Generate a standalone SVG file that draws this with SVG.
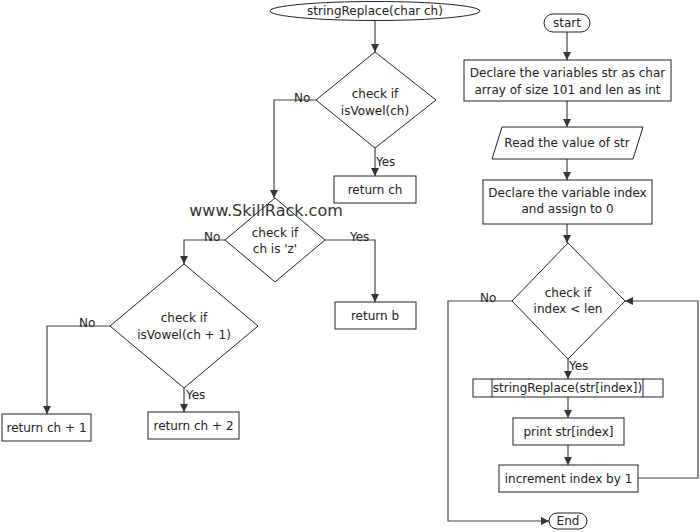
<svg xmlns="http://www.w3.org/2000/svg" width="700" height="532" viewBox="0 0 700 532">
<defs>
<marker id="ah" viewBox="0 0 10 10" refX="10" refY="5" markerWidth="8" markerHeight="8" markerUnits="userSpaceOnUse" orient="auto">
<path d="M0,0 L10,5 L0,10 Z" fill="#333"/>
</marker>
<style>
.s{fill:#fff;stroke:#222;stroke-width:1}
.t{font-family:"DejaVu Sans","Liberation Sans",sans-serif;font-size:12px;fill:#222;text-anchor:middle}
.l{font-family:"DejaVu Sans","Liberation Sans",sans-serif;font-size:12px;fill:#222}
.c{fill:none;stroke:#444;stroke-width:1.2}
</style>
</defs>
<rect width="700" height="532" fill="#fff"/>
<g id="connectors">
<path class="c" d="M375,20 V52" marker-end="url(#ah)"/>
<path class="c" d="M316,100 H274 V198" marker-end="url(#ah)"/>
<path class="c" d="M375,148 V176" marker-end="url(#ah)"/>
<path class="c" d="M225,240 H184 V264" marker-end="url(#ah)"/>
<path class="c" d="M325,240 H375 V302" marker-end="url(#ah)"/>
<path class="c" d="M110,326 H47 V414" marker-end="url(#ah)"/>
<path class="c" d="M184,388 V412" marker-end="url(#ah)"/>
<path class="c" d="M567,32 V60" marker-end="url(#ah)"/>
<path class="c" d="M567,101 V127" marker-end="url(#ah)"/>
<path class="c" d="M567,159 V180" marker-end="url(#ah)"/>
<path class="c" d="M567,224 V243" marker-end="url(#ah)"/>
<path class="c" d="M568,359 V379" marker-end="url(#ah)"/>
<path class="c" d="M568,397 V418" marker-end="url(#ah)"/>
<path class="c" d="M568,445 V465" marker-end="url(#ah)"/>
<path class="c" d="M638,478 H698 V301 H625" marker-end="url(#ah)"/>
<path class="c" d="M512,301 H448 V521 H549" marker-end="url(#ah)"/>
<text class="l" x="294" y="102">No</text>
<text class="l" x="376" y="166">Yes</text>
<text class="l" x="204" y="241">No</text>
<text class="l" x="350" y="241">Yes</text>
<text class="l" x="79" y="327">No</text>
<text class="l" x="186" y="399">Yes</text>
<text class="l" x="480" y="302">No</text>
<text class="l" x="569" y="370">Yes</text>
</g>
<g id="fn-start">
<ellipse class="s" cx="375" cy="11" rx="105" ry="9.5"/>
<text class="t" x="375" y="15">stringReplace(char ch)</text>
</g>
<g id="dec-vowel">
<polygon class="s" points="375,52 436,100 375,148 316,100"/>
<text class="t" x="375" y="98">check if</text>
<text class="t" x="375" y="115">isVowel(ch)</text>
</g>
<g id="ret-ch">
<rect class="s" x="334" y="176" width="82" height="27"/>
<text class="t" x="375" y="194">return ch</text>
</g>
<g id="dec-z">
<polygon class="s" points="275,198 325,240 275,282 225,240"/>
<text class="t" x="275" y="237">check if</text>
<text class="t" x="275" y="253">ch is 'z'</text>
</g>
<g id="ret-b">
<rect class="s" x="335" y="302" width="81" height="27"/>
<text class="t" x="375" y="320">return b</text>
</g>
<g id="dec-vowel1">
<polygon class="s" points="184,264 258,326 184,388 110,326"/>
<text class="t" x="184" y="322">check if</text>
<text class="t" x="184" y="339">isVowel(ch + 1)</text>
</g>
<g id="ret-ch1">
<rect class="s" x="2" y="414" width="89" height="27"/>
<text class="t" x="46.5" y="432">return ch + 1</text>
</g>
<g id="ret-ch2">
<rect class="s" x="148" y="412" width="91" height="27"/>
<text class="t" x="193.5" y="430">return ch + 2</text>
</g>
<g id="start">
<rect class="s" x="544" y="14" width="46" height="18" rx="9"/>
<text class="t" x="567" y="27">start</text>
</g>
<g id="declare">
<rect class="s" x="464" y="60" width="207" height="41"/>
<text class="t" x="567.5" y="77">Declare the variables str as char</text>
<text class="t" x="567.5" y="94">array of size 101 and len as int</text>
</g>
<g id="read">
<polygon class="s" points="502,127 643,127 633,159 492,159"/>
<text class="t" x="567" y="147">Read the value of str</text>
</g>
<g id="declare-index">
<rect class="s" x="483" y="180" width="169" height="44"/>
<text class="t" x="567.5" y="197">Declare the variable index</text>
<text class="t" x="567.5" y="213">and assign to 0</text>
</g>
<g id="dec-loop">
<polygon class="s" points="568,243 625,301 568,359 512,301"/>
<text class="t" x="568" y="297">check if</text>
<text class="t" x="568" y="313">index &lt; len</text>
</g>
<g id="call">
<rect class="s" x="473" y="379" width="190" height="18"/>
<line class="s" x1="492" y1="379" x2="492" y2="397"/>
<line class="s" x1="643" y1="379" x2="643" y2="397"/>
<text class="t" x="567.5" y="392">stringReplace(str[index])</text>
</g>
<g id="print">
<rect class="s" x="513" y="418" width="111" height="27"/>
<text class="t" x="568.5" y="436">print str[index]</text>
</g>
<g id="increment">
<rect class="s" x="499" y="465" width="139" height="27"/>
<text class="t" x="568.5" y="483">increment index by 1</text>
</g>
<g id="end">
<rect class="s" x="549" y="513" width="38" height="16" rx="8"/>
<text class="t" x="568" y="525">End</text>
</g>
<text x="266" y="216" font-family="DejaVu Sans, sans-serif" font-size="16" fill="#333" text-anchor="middle">www.SkillRack.com</text>
</svg>
